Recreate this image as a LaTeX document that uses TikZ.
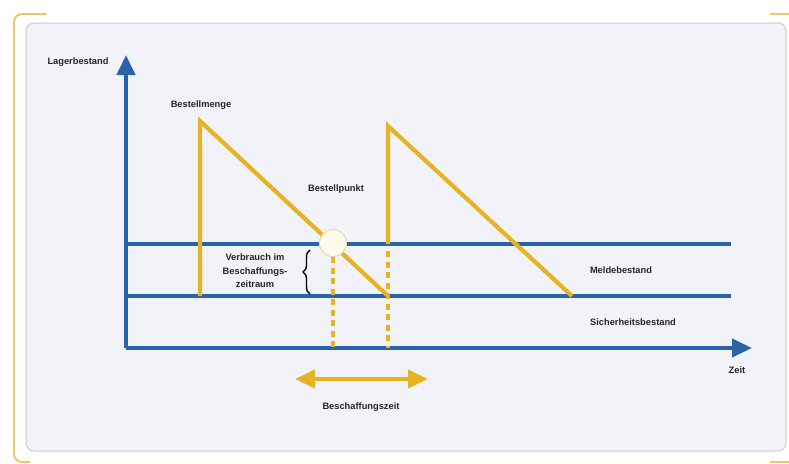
\documentclass[tikz,border=0pt]{standalone}
\usepackage{fontspec}
\setmainfont{Liberation Sans}
\usetikzlibrary{arrows.meta,decorations.pathreplacing}
\definecolor{axisblue}{HTML}{2B63AA}
\definecolor{gold}{HTML}{E6B325}
\definecolor{framegold}{HTML}{EBC86A}
\definecolor{panel}{HTML}{F2F3F8}
\definecolor{panelline}{HTML}{C9CACF}
\definecolor{txt}{HTML}{262626}
\definecolor{dotfill}{HTML}{FFFBEA}
\definecolor{dotline}{HTML}{EAD9A6}
\begin{document}
\begin{tikzpicture}[x=1pt,y=-1pt,
  lbl/.style={font=\bfseries\fontsize{9.3}{11}\selectfont,text=txt,inner sep=0pt,align=center},
  blueline/.style={draw=axisblue,line width=4.2pt},
  blueaxis/.style={blueline,-{Triangle[width=18pt,length=20pt]}},
  goldline/.style={draw=gold,line width=4.2pt,line join=miter},
  golddots/.style={draw=gold,line width=4.2pt,dash pattern=on 6pt off 4.5pt},
  goldarrow/.style={draw=gold,line width=4.2pt,{Triangle[width=18pt,length=20pt]}-{Triangle[width=18pt,length=20pt]}}]
\useasboundingbox (0,0) rectangle (789,463);
% outer frame
\draw[framegold,line width=2pt,rounded corners=8pt] (46,14) -- (14,14) -- (14,462) -- (30,462);
\draw[framegold,line width=2pt] (770,14) -- (789,14);
\draw[framegold,line width=2pt] (770,462) -- (789,462);
% panel
\filldraw[fill=panel,draw=panelline,line width=1pt,rounded corners=8pt] (26,23) rectangle (786,451);
% coordinates
\coordinate (O) at (126,348);
\coordinate (Ytip) at (126,55);
\coordinate (Xtip) at (752,348);
\coordinate (M0) at (126,244);
\coordinate (M1) at (731,244);
\coordinate (S0) at (126,296);
\coordinate (S1) at (731,296);
\coordinate (A0) at (200,296);
\coordinate (A1) at (200,121);
\coordinate (A2) at (388,296);
\coordinate (B0) at (388,244);
\coordinate (B1) at (388,126);
\coordinate (B2) at (572,296);
\coordinate (Bx) at (388,348);
\coordinate (Pd) at (333,257);
\coordinate (Px) at (333,348);
\coordinate (Q0) at (295,379);
\coordinate (Q1) at (428,379);
\coordinate (Br0) at (310,294);
\coordinate (Br1) at (310,250);
% blue lines
\draw[blueline] (M0) -- (M1);
\draw[blueline] (S0) -- (S1);
\draw[blueaxis] (O) -- (Ytip);
\draw[blueaxis] (O) -- (Xtip);
% gold sawtooth
\draw[goldline] (A0) -- (A1) -- (A2);
\draw[goldline] (B0) -- (B1) -- (B2);
\draw[golddots] (B0) ++(0,7) -- (Bx);
\draw[golddots] (Pd) -- (Px);
\node[circle,minimum size=27pt,inner sep=0pt,fill=dotfill,draw=dotline,line width=1pt] (P) at (333,243) {};
% brace
\draw[black,line width=1.4pt,decorate,decoration={brace,amplitude=7pt}] (Br0) -- (Br1);
% double arrow
\draw[goldarrow] (Q0) -- (Q1);
% labels
\node[lbl] (ylab) at (78,62) {Lagerbestand};
\node[lbl] (menge) at (201,105) {Bestellmenge};
\node[lbl] (punkt) at (336,189) {Bestellpunkt};
\node[lbl,font=\bfseries\fontsize{9.3}{13.5}\selectfont] (verb) at (255,271) {Verbrauch im\\Beschaffungs-\\zeitraum};
\node[lbl] (melde) at (621,270) {Meldebestand};
\node[lbl] (sicher) at (633,322) {Sicherheitsbestand};
\node[lbl] (zeit) at (737,370) {Zeit};
\node[lbl] (bzeit) at (361,407) {Beschaffungszeit};
\end{tikzpicture}
\end{document}
